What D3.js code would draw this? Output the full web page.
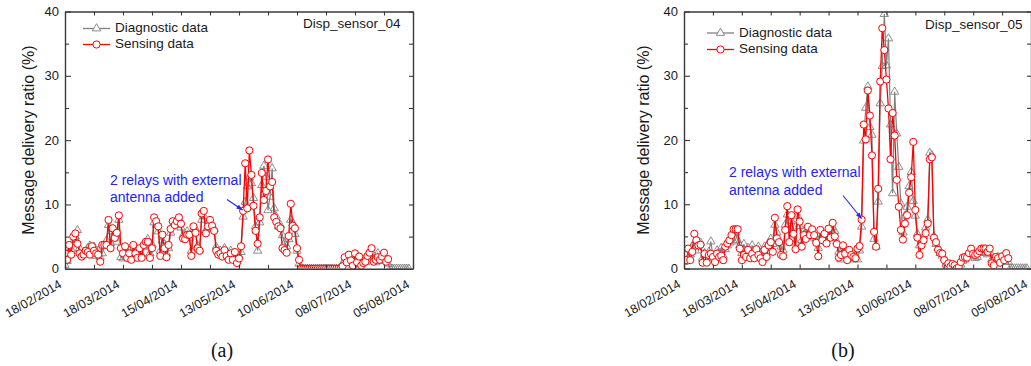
<!DOCTYPE html>
<html>
<head>
<meta charset="utf-8">
<script src="https://cdn.jsdelivr.net/npm/d3@7"></script>
<style>
  body { margin: 0; background: #fff; }
  svg { display: block; font-family: "Liberation Sans", Arial, sans-serif; }
</style>
</head>
<body>
<svg id="chart" width="1031" height="366"></svg>
<script>
// x axis tick labels (every 28 days) - minor ticks fall halfway between
const tickLabels = ["18/02/2014", "18/03/2014", "15/04/2014", "13/05/2014", "10/06/2014", "08/07/2014", "05/08/2014"];
const startDate = "18/02/2014";
const yTicks = [0, 5, 10, 15, 20, 25, 30, 35, 40];
const seriesNames = ["Diagnostic data", "Sensing data"];
const annotation = ["2 relays with external", "antenna added"];

// Disp_sensor_04, one value per day from 18/02/2014
const sensing04 = [
  2.4, 1.4, 3.7, 2.2, 5.0, 5.5, 3.9, 2.4, 1.9, 2.2,
  2.8, 2.6, 2.2, 3.5, 2.8, 2.4, 2.2, 1.1, 3.7, 3.7,
  3.7, 7.6, 3.2, 6.3, 4.8, 5.6, 8.3, 3.2, 2.4, 3.5,
  1.7, 2.4, 1.4, 3.7, 2.4, 1.7, 3.2, 1.7, 3.7, 4.2,
  4.2, 1.7, 3.2, 8.0, 7.4, 6.6, 2.0, 5.3, 3.2, 1.8,
  3.7, 6.2, 7.4, 6.8, 7.4, 8.0, 7.0, 4.7, 4.6, 5.3,
  5.3, 2.0, 6.6, 5.6, 3.2, 2.8, 8.6, 9.0, 5.5, 6.6,
  7.6, 6.7, 5.9, 2.8, 2.2, 2.4, 1.9, 2.9, 2.0, 1.4,
  2.4, 1.4, 2.6, 0.9, 1.6, 3.5, 9.0, 16.4, 9.4, 18.4,
  14.6, 9.8, 5.9, 3.9, 8.0, 14.9, 10.7, 12.1, 17.0, 12.8,
  13.5, 8.0, 7.3, 6.6, 6.3, 3.2, 2.9, 2.5, 5.1, 10.1,
  6.7, 6.3, 3.2, 1.4, 0, 0, 0, 0, 0, 0,
  0, 0, 0, 0, 0, 0, 0, 0, 0, 0,
  0, 0, 0, 0, 0.4, 1.8, 1.0, 2.2, 1.3, 0.5,
  2.4, 1.0, 1.9, 0.5, 0.9, 1.1, 2.0, 2.5, 3.2, 1.1,
  1.4, 1.8, 1.4, 1.9, 2.5, 1.1, 1.5
];
const diagnostic04 = [
  0.6, 1.2, 2.8, 3.0, 4.2, 5.0, 6.0, 3.2, 2.2, 2.6,
  2.4, 3.2, 3.6, 2.6, 3.4, 2.0, 2.8, 1.8, 2.4, 3.6,
  4.4, 6.8, 4.0, 5.8, 5.2, 4.2, 7.6, 1.8, 1.6, 3.2,
  2.0, 2.8, 1.6, 3.0, 2.8, 1.8, 2.6, 2.2, 3.4, 3.6,
  4.6, 2.4, 3.8, 7.2, 6.8, 5.8, 2.8, 4.4, 3.8, 2.4,
  3.2, 5.6, 6.8, 7.2, 6.8, 7.8, 6.4, 5.2, 5.0, 5.8,
  4.8, 2.8, 6.0, 6.2, 3.6, 3.0, 7.6, 8.2, 6.0, 6.4,
  7.0, 6.8, 6.2, 3.4, 2.6, 2.8, 2.2, 3.2, 2.4, 1.8,
  2.8, 2.0, 2.4, 1.6, 2.0, 2.6, 8.1, 10.4, 12.8, 14.2,
  13.3, 11.0, 6.6, 2.8, 7.2, 13.0, 16.0, 14.3, 9.1, 11.2,
  15.6, 9.4, 8.1, 6.6, 6.8, 5.2, 4.0, 3.5, 4.6, 7.6,
  7.1, 5.4, 2.8, 0.8, 0, 0, 0, 0, 0, 0,
  0, 0, 0, 0, 0, 0, 0, 0, 0, 0,
  0, 0, 0, 0, 0.8, 1.2, 1.6, 2.0, 1.0, 0.6,
  2.0, 1.4, 1.6, 0.8, 1.4, 1.0, 2.2, 2.0, 2.6, 1.4,
  1.0, 2.4, 1.6, 1.2, 2.2, 1.4, 0.8, 0, 0, 0,
  0, 0, 0, 0, 0, 0, 0
];

// Disp_sensor_05
const sensing05 = [
  2.3, 1.3, 3.1, 1.3, 2.6, 5.4, 4.4, 3.6, 3.7, 0.9,
  2.3, 0.9, 2.1, 2.3, 1.8, 1.0, 2.3, 1.8, 2.0, 1.3,
  3.4, 3.9, 4.4, 5.2, 6.1, 6.1, 6.1, 3.1, 1.3, 2.1,
  1.8, 2.9, 1.6, 2.3, 1.6, 3.0, 2.1, 1.6, 1.0, 2.9,
  1.8, 3.6, 4.1, 2.6, 7.9, 4.7, 4.1, 2.1, 1.9, 6.0,
  9.7, 4.1, 8.3, 5.4, 3.0, 9.2, 7.3, 3.4, 5.2, 4.6,
  6.5, 5.2, 6.1, 5.2, 4.0, 1.9, 6.0, 4.4, 5.4, 3.9,
  6.2, 4.8, 7.1, 5.0, 3.8, 1.7, 2.1, 3.6, 2.3, 1.3,
  2.9, 2.1, 1.8, 1.6, 3.1, 3.5, 7.6, 22.4, 20.1, 27.7,
  23.8, 17.6, 5.7, 3.4, 12.4, 29.1, 37.4, 34.0, 29.4, 24.9,
  17.0, 24.2, 20.7, 13.8, 9.6, 6.0, 4.5, 7.0, 8.3, 11.8,
  14.2, 19.7, 9.1, 4.8, 2.1, 3.6, 4.4, 5.5, 7.0, 17.0,
  17.3, 4.8, 4.1, 2.9, 2.4, 2.3, 1.3, 0.4, 0.8, 0.3,
  0.7, 0.5, 0.0, 0.2, 1.0, 1.7, 1.8, 1.7, 2.4, 3.1,
  2.3, 2.1, 2.3, 2.7, 3.1, 3.1, 3.1, 2.6, 3.1, 0.8,
  0.5, 1.8, 1.6, 0.9, 1.9, 1.3, 2.4, 1.6
];
const diagnostic05 = [
  1.0, 2.0, 2.6, 2.2, 3.4, 4.0, 3.6, 2.8, 4.0, 1.6,
  2.4, 1.8, 2.6, 4.2, 2.0, 1.6, 2.8, 2.4, 3.2, 2.0,
  3.0, 3.6, 4.0, 4.8, 4.2, 5.6, 4.4, 3.6, 2.4, 3.8,
  2.6, 3.2, 2.0, 3.6, 2.4, 2.8, 3.4, 2.2, 1.4, 3.4,
  2.6, 4.0, 4.6, 3.8, 6.8, 5.6, 4.2, 3.4, 2.8, 6.8,
  8.4, 6.0, 7.4, 6.4, 4.0, 8.2, 6.6, 4.4, 5.8, 5.2,
  6.2, 6.0, 5.6, 4.8, 4.6, 3.2, 5.4, 5.2, 4.8, 4.6,
  5.6, 5.4, 6.4, 5.8, 4.2, 2.6, 1.4, 3.0, 2.6, 2.0,
  1.6, 2.2, 1.4, 2.0, 1.4, 2.8, 6.5, 19.9, 25.0, 28.3,
  22.0, 20.8, 4.6, 3.4, 10.4, 25.7, 31.5, 39.6, 31.6, 35.8,
  22.4, 11.7, 27.5, 21.0, 15.8, 10.1, 5.6, 8.2, 9.6, 12.8,
  15.0, 10.5, 8.2, 5.4, 3.6, 4.2, 5.0, 6.4, 7.6, 18.0,
  17.6, 5.0, 3.8, 3.2, 2.4, 2.0, 1.6, 0.8, 0.4, 0.6,
  0.2, 0.4, 0.0, 0.0, 0.6, 1.2, 1.4, 2.0, 2.2, 2.6,
  2.0, 1.6, 1.8, 2.4, 2.6, 2.8, 2.4, 2.2, 2.6, 1.4,
  0.8, 1.2, 1.8, 1.0, 1.4, 1.2, 1.8, 1.0, 0, 0,
  0, 0, 0, 0, 0, 0, 0
];

const parseDate = d3.timeParse("%d/%m/%Y");
const fmtDate = d3.timeFormat("%d/%m/%Y");
const day0 = parseDate(startDate);
const majorTicks = tickLabels.map(parseDate);
const minorTicks = d3.range(0, majorTicks.length * 2 - 1).map(k => d3.timeDay.offset(day0, 14 * k));

const RED = "#ff0000";
const GREY = "#808080";
const AXIS = "#3a3a3a";
const BLUE = "#2323ff";

const svg = d3.select("#chart");
svg.append("rect").attr("width", 1031).attr("height", 366).attr("fill", "#fff");

const panels = [
  {
    id: "a", name: "Disp_sensor_04", left: 65, right: 413, top: 11.5, bottom: 268.8,
    diag: diagnostic04, sens: sensing04, nameX: 303, nameY: 24,
    legendX: 83, legendY: [28.5, 44.5],
    noteX: 110, noteY: [181, 198], arrow: [[227, 199.5], [242.5, 210]],
    ylabelX: 30, caption: "(a)", captionX: 222
  },
  {
    id: "b", name: "Disp_sensor_05", left: 684, right: 1031, top: 11.5, bottom: 268.5,
    diag: diagnostic05, sens: sensing05, nameX: 925, nameY: 25,
    legendX: 707, legendY: [33, 49.5],
    noteX: 729, noteY: [173.5, 191], arrow: [[843, 195.5], [861.5, 218.5]],
    ylabelX: 645, caption: "(b)", captionX: 843
  }
];

svg.append("defs").append("marker")
  .attr("id", "arrowhead")
  .attr("viewBox", "0 0 10 10")
  .attr("refX", 9).attr("refY", 5)
  .attr("markerWidth", 7).attr("markerHeight", 6)
  .attr("orient", "auto")
  .append("path").attr("d", "M0,1.5 L10,5 L0,8.5 Z").attr("fill", BLUE);

const triangle = d3.symbol().type(d3.symbolTriangle).size(30);

function styleAxis(g) {
  g.select(".domain").attr("stroke", AXIS).attr("stroke-width", 1.4);
  g.selectAll(".tick line").attr("stroke", AXIS).attr("stroke-width", 1.1);
  g.selectAll("text").attr("fill", "#1a1a1a").style("font-family", "'Liberation Sans', Arial, sans-serif");
}

panels.forEach(p => {
  const x = d3.scaleTime()
    .domain([day0, majorTicks[majorTicks.length - 1]])
    .range([p.left, p.right]);
  const y = d3.scaleLinear().domain([0, 40]).range([p.bottom, p.top]);

  const g = svg.append("g");

  g.append("clipPath").attr("id", "clip-" + p.id)
    .append("rect")
    .attr("x", p.left).attr("y", p.top)
    .attr("width", p.right - p.left).attr("height", p.bottom - p.top);

  const plot = g.append("g").attr("clip-path", `url(#clip-${p.id})`);

  const diagData = p.diag.map((v, i) => ({ date: d3.timeDay.offset(day0, i), value: v }));
  const sensData = p.sens.map((v, i) => ({ date: d3.timeDay.offset(day0, i), value: v }));

  const line = d3.line().x(d => x(d.date)).y(d => y(d.value));

  // diagnostic (grey triangles) underneath
  plot.append("path").datum(diagData)
    .attr("d", line).attr("fill", "none")
    .attr("stroke", GREY).attr("stroke-width", 1.2);
  plot.selectAll(".tri").data(diagData).enter()
    .append("path")
    .attr("d", triangle)
    .attr("transform", d => `translate(${x(d.date)},${y(d.value)})`)
    .attr("fill", "none").attr("stroke", GREY).attr("stroke-width", 0.9);

  // sensing (red circles) on top
  plot.append("path").datum(sensData)
    .attr("d", line).attr("fill", "none")
    .attr("stroke", RED).attr("stroke-width", 1.3);
  plot.selectAll(".dot").data(sensData).enter()
    .append("circle")
    .attr("cx", d => x(d.date)).attr("cy", d => y(d.value))
    .attr("r", 3.6)
    .attr("fill", "#fff").attr("stroke", RED).attr("stroke-width", 1);

  // axes with inward ticks
  const majorSet = new Set(majorTicks.map(d => +d));
  const bottomAxis = g.append("g")
    .attr("transform", `translate(0,${p.bottom})`)
    .call(d3.axisBottom(x).tickValues(minorTicks).tickSizeInner(-4).tickSizeOuter(0)
      .tickFormat(d => majorSet.has(+d) ? fmtDate(d) : ""));
  styleAxis(bottomAxis);
  bottomAxis.selectAll("text")
    .attr("x", 0).attr("y", 0).attr("dy", 0)
    .attr("text-anchor", "end")
    .attr("font-size", 12.5)
    .attr("transform", "translate(-3,18) rotate(-30)");

  const topAxis = g.append("g")
    .attr("transform", `translate(0,${p.top})`)
    .call(d3.axisTop(x).tickValues(minorTicks).tickSizeInner(-4).tickSizeOuter(0).tickFormat(""));
  styleAxis(topAxis);

  const leftAxis = g.append("g")
    .attr("transform", `translate(${p.left},0)`)
    .call(d3.axisLeft(y).tickValues(yTicks).tickSizeInner(-4).tickSizeOuter(0).tickPadding(6)
      .tickFormat(d => d % 10 === 0 ? d : ""));
  styleAxis(leftAxis);
  leftAxis.selectAll("text").attr("font-size", 13);
  leftAxis.selectAll(".tick line").attr("x2", d => d % 10 === 0 ? 6 : 4);

  const rightAxis = g.append("g")
    .attr("transform", `translate(${p.right},0)`)
    .call(d3.axisRight(y).tickValues(yTicks).tickSizeInner(-4).tickSizeOuter(0).tickFormat(""));
  styleAxis(rightAxis);

  // y axis title
  g.append("text")
    .attr("transform", `translate(${p.ylabelX},${(p.top + p.bottom) / 2}) rotate(-90)`)
    .attr("text-anchor", "middle").attr("dominant-baseline", "middle")
    .attr("font-size", 16).attr("fill", "#1a1a1a")
    .text("Message delivery ratio (%)");

  // sensor name
  g.append("text")
    .attr("x", p.nameX).attr("y", p.nameY)
    .attr("dominant-baseline", "middle")
    .attr("font-size", 13.5).attr("fill", "#1a1a1a")
    .text(p.name);

  // legend
  const legend = g.append("g");
  seriesNames.forEach((name, i) => {
    const ly = p.legendY[i];
    const col = i === 0 ? GREY : RED;
    legend.append("line")
      .attr("x1", p.legendX).attr("x2", p.legendX + 27)
      .attr("y1", ly).attr("y2", ly)
      .attr("stroke", col).attr("stroke-width", 1.3);
    if (i === 0) {
      legend.append("path").attr("d", triangle)
        .attr("transform", `translate(${p.legendX + 13.5},${ly})`)
        .attr("fill", "#fff").attr("stroke", GREY).attr("stroke-width", 0.9);
    } else {
      legend.append("circle")
        .attr("cx", p.legendX + 13.5).attr("cy", ly).attr("r", 3.6)
        .attr("fill", "#fff").attr("stroke", RED).attr("stroke-width", 1);
    }
    legend.append("text")
      .attr("x", p.legendX + 32).attr("y", ly)
      .attr("dominant-baseline", "middle")
      .attr("font-size", 13.5).attr("fill", "#1a1a1a")
      .text(name);
  });

  // annotation
  annotation.forEach((t, i) => {
    g.append("text")
      .attr("x", p.noteX).attr("y", p.noteY[i])
      .attr("dominant-baseline", "middle")
      .attr("font-size", 14).attr("fill", BLUE)
      .text(t);
  });
  g.append("line")
    .attr("x1", p.arrow[0][0]).attr("y1", p.arrow[0][1])
    .attr("x2", p.arrow[1][0]).attr("y2", p.arrow[1][1])
    .attr("stroke", BLUE).attr("stroke-width", 1.1)
    .attr("marker-end", "url(#arrowhead)");

  // caption
  g.append("text")
    .attr("x", p.captionX).attr("y", 352)
    .attr("text-anchor", "middle").attr("dominant-baseline", "middle")
    .attr("font-size", 20).attr("fill", "#111")
    .style("font-family", "'Liberation Serif', 'DejaVu Serif', serif")
    .text(p.caption);
});
</script>
</body>
</html>
